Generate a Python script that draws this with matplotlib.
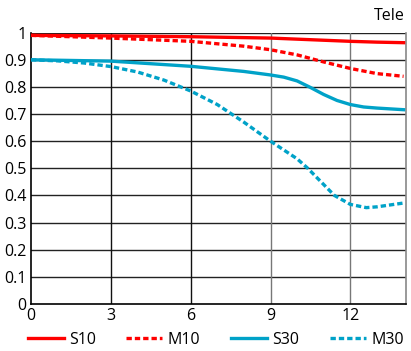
import matplotlib
matplotlib.use('Agg')
import matplotlib.pyplot as plt

plt.rcParams['font.family'] = ['Open Sans', 'DejaVu Sans']

x_s10 = [0, 3, 6, 9, 10, 11, 12, 13, 14]
s10 = [0.990, 0.988, 0.985, 0.980, 0.976, 0.972, 0.968, 0.965, 0.963]

x_m10 = [0, 3, 6, 8, 9, 10, 10.5, 11, 12, 13, 14]
m10 = [0.990, 0.980, 0.968, 0.950, 0.937, 0.918, 0.905, 0.892, 0.868, 0.849, 0.839]

x_s30 = [0, 3, 6, 8, 9, 9.5, 10, 10.5, 11, 11.5, 12, 12.5, 13, 14]
s30 = [0.900, 0.895, 0.876, 0.857, 0.844, 0.836, 0.822, 0.798, 0.772, 0.750, 0.735, 0.726, 0.722, 0.716]

x_m30 = [0, 1, 2, 3, 4, 5, 6, 7, 8, 9, 10, 10.4, 11, 11.4, 12, 12.6, 13, 14]
m30 = [0.900, 0.896, 0.888, 0.875, 0.855, 0.825, 0.785, 0.735, 0.670, 0.600, 0.535, 0.500, 0.440, 0.400, 0.367, 0.355, 0.358, 0.372]

xticks = [0, 3, 6, 9, 12]
yticks = [0, 0.1, 0.2, 0.3, 0.4, 0.5, 0.6, 0.7, 0.8, 0.9, 1]
ylabels = ['0', '0.1', '0.2', '0.3', '0.4', '0.5', '0.6', '0.7', '0.8', '0.9', '1']

red = '#ff0000'
blue = '#00a2c8'

fig = plt.figure(figsize=(4.11, 3.51), dpi=100)
ax = fig.add_axes([0.0754, 0.134, 0.913, 0.773])

for y in yticks[1:]:
    ax.axhline(y, color='#222222', lw=1.0, zorder=1)
for xv in xticks[1:]:
    c = '#111111' if xv < 9 else '#777777'
    ax.axvline(xv, color=c, lw=1.0, zorder=1)

lw = 2.4
ax.plot(x_s10, s10, color=red, lw=lw, label='S10', zorder=3)
ax.plot(x_m10, m10, color=red, lw=lw, dashes=(1.6, 0.9), label='M10', zorder=3)
ax.plot(x_s30, s30, color=blue, lw=lw, label='S30', zorder=3)
ax.plot(x_m30, m30, color=blue, lw=lw, dashes=(1.6, 0.9), label='M30', zorder=3)

ax.set_xlim(0, 14.1)
ax.set_ylim(0, 1)
ax.set_xticks(xticks)
ax.set_yticks(yticks)
ax.set_yticklabels(ylabels)
ax.tick_params(length=0, labelsize=11.5, pad=3)
ax.spines['top'].set_visible(False)
ax.spines['right'].set_color('#888888')
ax.spines['left'].set_color('black')
ax.spines['bottom'].set_color('black')
for s in ax.spines.values():
    s.set_linewidth(1.2)

fig.text(0.985, 0.955, 'Tele', ha='right', va='center', fontsize=11.5)

fig.legend(loc='center', bbox_to_anchor=(0.525, 0.032), ncol=4, frameon=False,
           fontsize=11.5, handlelength=2.25, columnspacing=1.9, handletextpad=0.35,
           borderpad=0, borderaxespad=0)

fig.savefig('out.png', dpi=100)
